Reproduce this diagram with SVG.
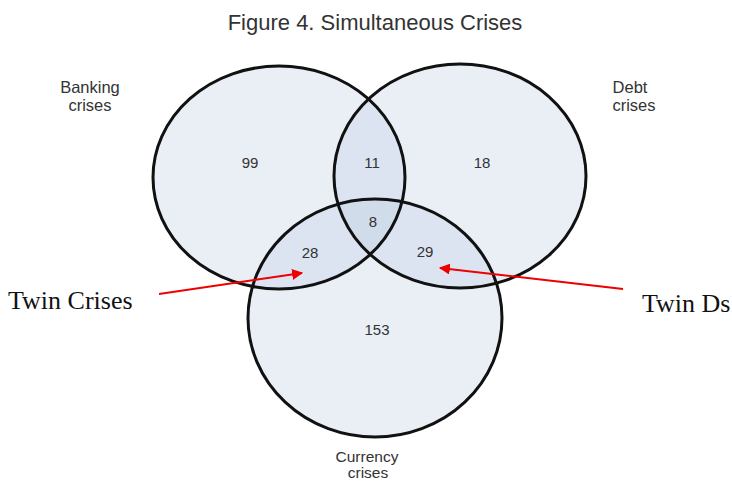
<svg xmlns="http://www.w3.org/2000/svg" width="732" height="481" viewBox="0 0 732 481">
<style>
.set{fill:#b8c9e0;fill-opacity:0.3;stroke:none}
.edge{fill:none;stroke:#111;stroke-width:3}
.num{font-family:"Liberation Sans",Arial,sans-serif;font-size:15px;fill:#333;text-anchor:middle}
.lbl{font-family:"Liberation Sans",Arial,sans-serif;font-size:16.5px;fill:#333;text-anchor:middle}
.lbl2{font-family:"Liberation Sans",Arial,sans-serif;font-size:15.5px;fill:#333;text-anchor:middle}
.title{font-family:"Liberation Sans",Arial,sans-serif;font-size:22px;fill:#333;text-anchor:middle}
.ann{font-family:"Liberation Serif","Times New Roman",serif;font-size:26px;fill:#111}
.arr{stroke:#e00;stroke-width:2;fill:none}
</style>
<defs>
<marker id="ah" viewBox="0 0 10 10" refX="9" refY="5" markerWidth="5.5" markerHeight="5.5" orient="auto" markerUnits="strokeWidth">
<path d="M0,0 L10,5 L0,10 z" fill="#e00"/>
</marker>
</defs>
<rect width="732" height="481" fill="#fff"/>
<text class="title" x="375" y="30">Figure 4. Simultaneous Crises</text>
<g id="banking">
<ellipse class="set" cx="279" cy="177.5" rx="126" ry="111.5"/>
<text class="lbl" x="90" y="93">Banking</text>
<text class="lbl" x="90" y="111">crises</text>
</g>
<g id="debt">
<ellipse class="set" cx="460" cy="176" rx="126" ry="112"/>
<text class="lbl" x="630" y="93">Debt</text>
<text class="lbl" x="634" y="111">crises</text>
</g>
<g id="currency">
<ellipse class="set" cx="375" cy="318" rx="127" ry="119"/>
<text class="lbl2" x="367" y="462">Currency</text>
<text class="lbl2" x="368" y="478">crises</text>
</g>
<g id="edges">
<ellipse class="edge" cx="279" cy="177.5" rx="126" ry="111.5"/>
<ellipse class="edge" cx="460" cy="176" rx="126" ry="112"/>
<ellipse class="edge" cx="375" cy="318" rx="127" ry="119"/>
</g>
<g id="counts">
<text class="num" x="250" y="168">99</text>
<text class="num" x="372" y="168">11</text>
<text class="num" x="482" y="168">18</text>
<text class="num" x="373" y="227">8</text>
<text class="num" x="310" y="258">28</text>
<text class="num" x="425" y="257">29</text>
<text class="num" x="377" y="335">153</text>
</g>
<g id="twin-crises">
<text class="ann" x="8" y="309">Twin Crises</text>
</g>
<g id="twin-ds">
<text class="ann" x="642" y="312">Twin Ds</text>
</g>
<g id="connectors">
<line class="arr" x1="159" y1="294" x2="302" y2="273" marker-end="url(#ah)"/>
<line class="arr" x1="623" y1="289" x2="440" y2="268" marker-end="url(#ah)"/>
</g>
</svg>
